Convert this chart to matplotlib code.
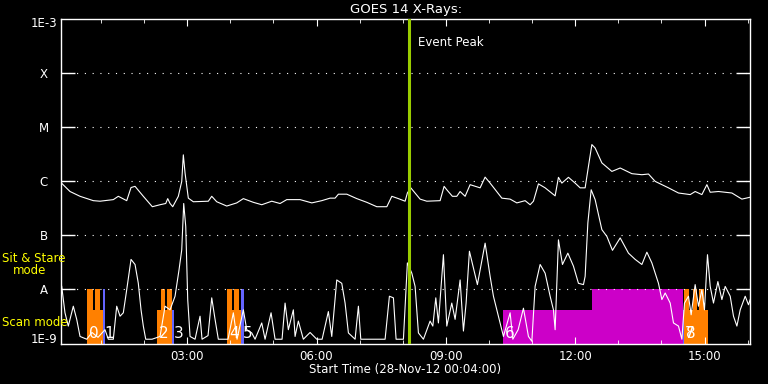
import matplotlib
matplotlib.use('Agg')
import matplotlib.pyplot as plt
import matplotlib.transforms as mtransforms
from matplotlib.ticker import FixedLocator, NullLocator

# время в часах (28-Nov-12), поток в W/m^2
long_t = [0.067, 0.283, 0.515, 0.823, 0.979, 1.287, 1.403, 1.598, 1.698, 1.791,
          1.983, 2.192, 2.371, 2.503, 2.549, 2.603, 2.665, 2.795, 2.874, 2.911,
          2.951, 3.027, 3.143, 3.491, 3.570, 3.686, 3.918, 4.150, 4.303, 4.535,
          4.730, 4.962, 5.155, 5.310, 5.619, 5.891, 6.122, 6.315, 6.431, 6.508,
          6.703, 6.935, 7.167, 7.399, 7.631, 7.747, 7.900, 8.055, 8.108, 8.187,
          8.403, 8.558, 8.867, 8.960, 9.022, 9.152, 9.254, 9.331, 9.447, 9.563,
          9.795, 9.911, 10.027, 10.299, 10.491, 10.647, 10.839, 10.955, 11.032, 11.148,
          11.303, 11.535, 11.612, 11.691, 11.844, 11.999, 12.115, 12.231, 12.308, 12.387,
          12.463, 12.619, 12.851, 13.044, 13.315, 13.547, 13.700, 13.856, 14.164, 14.396,
          14.668, 14.784, 14.939, 15.055, 15.132, 15.324, 15.635, 15.867, 16.060]
long_flux = [9.6e-7, 6.5e-7, 5.3e-7, 4.4e-7, 4.3e-7, 4.6e-7, 5.3e-7, 4.4e-7, 7.7e-7, 8.1e-7,
             5.3e-7, 3.4e-7, 3.7e-7, 3.9e-7, 4.8e-7, 3.9e-7, 3.4e-7, 5.3e-7, 1.0e-6, 3.1e-6,
             1.43e-6, 4.9e-7, 4.2e-7, 4.3e-7, 5.3e-7, 4.2e-7, 3.5e-7, 4.0e-7, 4.8e-7, 4.1e-7,
             3.7e-7, 4.3e-7, 3.9e-7, 4.6e-7, 4.6e-7, 4.0e-7, 4.4e-7, 4.9e-7, 4.9e-7, 5.8e-7,
             5.8e-7, 4.8e-7, 4.1e-7, 3.4e-7, 3.4e-7, 5.3e-7, 4.8e-7, 4.3e-7, 6.1e-7, 7.6e-7,
             4.7e-7, 4.3e-7, 4.4e-7, 8.1e-7, 7.0e-7, 5.3e-7, 5.3e-7, 6.5e-7, 5.3e-7, 8.7e-7,
             7.6e-7, 1.2e-6, 9.3e-7, 4.9e-7, 4.7e-7, 4.0e-7, 4.4e-7, 3.7e-7, 4.3e-7, 9.0e-7,
             7.6e-7, 5.4e-7, 1.19e-6, 9.3e-7, 1.19e-6, 9.3e-7, 7.6e-7, 7.6e-7, 1.9e-6, 4.8e-6,
             4.15e-6, 2.2e-6, 1.53e-6, 1.77e-6, 1.39e-6, 1.33e-6, 1.37e-6, 1.0e-6, 7.6e-7, 6.1e-7,
             5.7e-7, 6.5e-7, 5.7e-7, 8.7e-7, 6.3e-7, 6.5e-7, 6.1e-7, 4.7e-7, 5.1e-7]

short_t = [0.090, 0.166, 0.243, 0.359, 0.438, 0.515, 0.670, 0.793, 0.932, 1.094,
           1.171, 1.287, 1.366, 1.443, 1.519, 1.598, 1.698, 1.791, 1.867, 1.930,
           1.983, 2.039, 2.185, 2.371, 2.487, 2.603, 2.719, 2.811, 2.874, 2.920,
           2.967, 3.013, 3.067, 3.183, 3.299, 3.345, 3.484, 3.570, 3.647, 3.723,
           3.948, 4.071, 4.157, 4.303, 4.382, 4.498, 4.575, 4.730, 4.807, 4.946,
           5.039, 5.201, 5.271, 5.347, 5.463, 5.503, 5.579, 5.695, 5.851, 6.006,
           6.130, 6.275, 6.354, 6.470, 6.586, 6.663, 6.740, 6.895, 6.972, 7.027,
           7.290, 7.591, 7.691, 7.784, 7.846, 8.016, 8.108, 8.211, 8.287, 8.364,
           8.480, 8.635, 8.698, 8.767, 8.828, 8.944, 9.022, 9.138, 9.215, 9.331,
           9.408, 9.470, 9.547, 9.732, 9.911, 10.027, 10.104, 10.220, 10.336, 10.491,
           10.554, 10.677, 10.800, 10.916, 10.995, 11.071, 11.187, 11.303, 11.419, 11.496,
           11.535, 11.612, 11.705, 11.830, 11.960, 12.076, 12.192, 12.231, 12.294, 12.371,
           12.463, 12.619, 12.735, 12.865, 13.044, 13.236, 13.392, 13.547, 13.663, 13.779,
           13.932, 14.011, 14.088, 14.204, 14.280, 14.396, 14.475, 14.535, 14.628, 14.690,
           14.783, 14.860, 14.939, 14.999, 15.069, 15.132, 15.208, 15.310, 15.403, 15.480,
           15.596, 15.672, 15.751, 15.828, 15.944, 16.020, 16.060]
short_flux = [1.14e-8, 3.7e-9, 2.1e-9, 4.9e-9, 2.8e-9, 1.35e-9, 1.2e-9, 1.6e-9, 1.3e-9, 1.8e-9,
              1.2e-9, 1.2e-9, 4.9e-9, 3.2e-9, 3.7e-9, 9.9e-9, 3.6e-8, 2.9e-8, 1.3e-8, 4.2e-9,
              2.1e-9, 1.2e-9, 1.2e-9, 1.35e-9, 4.9e-9, 4.2e-9, 7.5e-9, 2.3e-8, 5.4e-8, 3.9e-7,
              1.47e-7, 6.5e-9, 1.35e-9, 1.2e-9, 3.2e-9, 1.2e-9, 1.4e-9, 7.0e-9, 2.8e-9, 1.2e-9,
              1.2e-9, 3.7e-9, 1.2e-9, 4.2e-9, 1.8e-9, 1.57e-9, 1.2e-9, 2.4e-9, 1.2e-9, 3.7e-9,
              1.2e-9, 1.2e-9, 5.6e-9, 1.8e-9, 4.2e-9, 1.35e-9, 2.6e-9, 1.2e-9, 1.6e-9, 1.2e-9,
              1.2e-9, 3.9e-9, 1.35e-9, 1.5e-8, 1.3e-8, 5.6e-9, 1.57e-9, 1.2e-9, 4.9e-9, 1.2e-9,
              1.2e-9, 1.2e-9, 7.5e-9, 7.0e-9, 1.2e-9, 1.2e-9, 3.1e-8, 2.0e-8, 1.14e-8, 1.57e-9,
              1.2e-9, 2.6e-9, 2.1e-9, 7.0e-9, 2.4e-9, 4.4e-8, 2.1e-9, 5.6e-9, 2.8e-9, 1.5e-8,
              1.7e-9, 5.6e-9, 5.1e-8, 1.23e-8, 7.2e-8, 1.75e-8, 7.5e-9, 3.2e-9, 1.35e-9, 3.7e-9,
              1.2e-9, 1.8e-9, 4.5e-9, 1.35e-9, 1.1e-9, 1.14e-8, 2.9e-8, 2.0e-8, 7.5e-9, 4.2e-9,
              1.8e-9, 8.3e-8, 2.9e-8, 4.7e-8, 2.7e-8, 1.3e-8, 1.23e-8, 1.75e-8, 1.7e-7, 7.0e-7,
              4.6e-7, 1.28e-7, 9.6e-8, 5.3e-8, 9.0e-8, 4.7e-8, 3.6e-8, 2.9e-8, 4.9e-8, 3.1e-8,
              1.3e-8, 6.5e-9, 8.6e-9, 5.6e-9, 2.4e-9, 2.1e-9, 1.2e-9, 5.6e-9, 7.5e-9, 3.4e-9,
              1.23e-8, 4.9e-9, 9.9e-9, 4.2e-9, 4.4e-8, 1.14e-8, 5.6e-9, 1.4e-8, 6.5e-9, 1.14e-8,
              7.5e-9, 3.2e-9, 2.1e-9, 4.2e-9, 7.5e-9, 5.2e-9, 6.5e-9]

# режимы наблюдений: (начало, конец) в часах
scan_orange = [(0.684, 1.041), (2.308, 2.642), (3.932, 4.257), (14.521, 15.078)]
stare_orange = [(0.684, 0.810), (0.870, 0.979), (2.387, 2.494), (2.540, 2.642),
                (3.932, 4.040), (4.087, 4.196), (14.521, 14.651), (14.744, 14.823),
                (14.876, 14.992)]
stare_blue = [(1.041, 1.103), (4.257, 4.320)]
scan_blue = [(2.642, 2.695), (14.498, 14.521)]
scan_magenta = [(10.322, 12.387)]
stare_magenta = [(12.387, 14.498)]
obs_start = [0.684, 1.041, 2.308, 2.642, 3.932, 4.257, 10.322, 14.498, 14.521]
obs_num = ['0', '1', '2', '3', '4', '5', '6', '7', '8']

event_peak = 8.141
t_start, t_end = 4 / 60, 16 + 4 / 60
hour_ticks = [3, 6, 9, 12, 15]
hour_labels = ['03:00', '06:00', '09:00', '12:00', '15:00']
class_levels = [1e-4, 1e-5, 1e-6, 1e-7, 1e-8]
class_names = ['X', 'M', 'C', 'B', 'A']

bottom, scan_top, stare_top = 1e-9, 4.2e-9, 1e-8
ORANGE, BLUE, MAGENTA = '#ff8000', '#6464ff', '#cc00c8'

fig = plt.figure(figsize=(7.68, 3.84), dpi=100, facecolor='black')
ax = fig.add_axes([60.7 / 768, 1 - 343.5 / 384, 689.8 / 768, 324.2 / 384])
ax.set_facecolor('black')
ax.set_yscale('log')
ax.set_xlim(t_start, t_end)
ax.set_ylim(1e-9, 1e-3)


def draw_spans(spans, top, color):
    for a, b in spans:
        ax.bar(a, top - bottom, width=b - a, bottom=bottom, align='edge',
               color=color, linewidth=0, zorder=1)


draw_spans(scan_orange, scan_top, ORANGE)
draw_spans(stare_orange, stare_top, ORANGE)
draw_spans(stare_blue, stare_top, BLUE)
draw_spans(scan_blue, scan_top, BLUE)
draw_spans(scan_magenta, scan_top, MAGENTA)
draw_spans(stare_magenta, stare_top, MAGENTA)

# сетка по классам
for lev in class_levels:
    ax.axhline(lev, color='white', lw=0.8, linestyle=(0, (1, 6)), zorder=2)

ax.plot(long_t, long_flux, color='white', lw=0.8, zorder=3)
ax.plot(short_t, short_flux, color='white', lw=0.8, zorder=3)

ax.axvline(event_peak, color='#99cc00', lw=2.2, zorder=4)
ax.text(event_peak + 0.22, 10 ** -3.43, 'Event Peak', color='white',
        fontsize=8.5, va='center', ha='left')

for t, s in zip(obs_start, obs_num):
    ax.text(t + 0.04, 1.12e-9, s, color='white', fontsize=11, ha='left',
            va='bottom', zorder=5)

# оси
for sp in ax.spines.values():
    sp.set_color('white')
    sp.set_linewidth(1)
ax.xaxis.set_major_locator(FixedLocator(hour_ticks))
ax.xaxis.set_minor_locator(FixedLocator(range(1, 17)))
ax.set_xticklabels(hour_labels)
ax.tick_params(axis='x', which='major', direction='in', top=True, length=5,
               color='white', labelcolor='white', labelsize=8.5, pad=5)
ax.tick_params(axis='x', which='minor', direction='in', top=True, length=3,
               color='white')
ax.yaxis.set_major_locator(FixedLocator(class_levels))
ax.yaxis.set_minor_locator(NullLocator())
ax.set_yticklabels([])
ax.tick_params(axis='y', which='major', direction='in', right=True, length=10,
               width=1, color='white')

ytr = mtransforms.blended_transform_factory(fig.transFigure, ax.transData)
for lev, name in zip(class_levels, class_names):
    ax.text(44 / 768, lev * 0.97, name, transform=ytr, color='white',
            fontsize=8.5, ha='center', va='center')
ax.text(57 / 768, 10 ** -3.081, '1E-3', transform=ytr, color='white',
        fontsize=8.5, ha='right', va='center')
ax.text(57 / 768, 10 ** -8.935, '1E-9', transform=ytr, color='white',
        fontsize=8.5, ha='right', va='center')

fig.text(405.6 / 768, 1 - 10 / 384, 'GOES 14 X-Rays:', color='white',
         fontsize=9.5, ha='center', va='center')
fig.text(405 / 768, 1 - 369 / 384, 'Start Time (28-Nov-12 00:04:00)',
         color='white', fontsize=8.5, ha='center', va='center')

fig.text(2 / 768, 1 - 259 / 384, 'Sit & Stare', color='yellow', fontsize=8.5,
         ha='left', va='center')
fig.text(13 / 768, 1 - 271 / 384, 'mode', color='yellow', fontsize=8.5,
         ha='left', va='center')
fig.text(2 / 768, 1 - 323 / 384, 'Scan mode', color='yellow', fontsize=8.5,
         ha='left', va='center')

fig.savefig('out.png', dpi=100, facecolor='black')
